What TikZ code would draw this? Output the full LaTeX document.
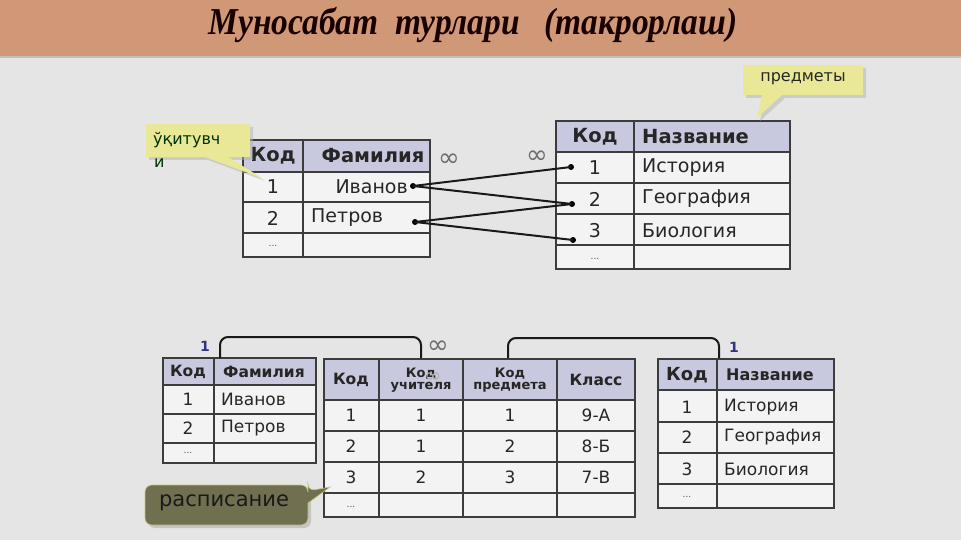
\documentclass[tikz,border=0pt]{standalone}
\usepackage{fontspec}
\setmainfont{DejaVu Sans}
\newfontfamily\titlefont{Liberation Serif}
\definecolor{bgcol}{RGB}{229,229,229}
\definecolor{titlecol}{RGB}{208,152,118}
\definecolor{hdr}{RGB}{200,200,222}
\definecolor{bodycol}{RGB}{243,243,243}
\definecolor{gridcol}{RGB}{60,60,60}
\definecolor{cally}{RGB}{232,232,150}
\definecolor{callo}{RGB}{112,112,80}
\definecolor{numblue}{RGB}{50,50,130}
\definecolor{infcol}{RGB}{110,110,110}
\tikzset{
  grid/.style={draw=gridcol,line width=1.3pt},
  txt/.style={inner sep=0pt,font=\fontsize{19}{22}\selectfont,text=black!85},
  htxt/.style={txt,font=\fontsize{19.5}{22}\selectfont\bfseries},
  stxt/.style={inner sep=0pt,font=\fontsize{17}{19}\selectfont,text=black!85},
  shtxt/.style={inner sep=0pt,font=\fontsize{15.5}{17}\selectfont\bfseries,text=black!85},
  tiny/.style={inner sep=0pt,font=\fontsize{13}{12.5}\selectfont\bfseries,text=black!85,align=center},
  dots/.style={inner sep=0pt,font=\fontsize{9}{10}\selectfont,text=black!70},
  dot/.style={circle,fill=black,inner sep=0pt,minimum size=6pt},
  conn/.style={draw=black!90,line width=2pt},
  inf/.style={inner sep=0pt,font=\fontsize{26}{26}\selectfont,text=infcol},
  one/.style={inner sep=0pt,font=\fontsize{14}{14}\selectfont\bfseries,text=numblue},
}
\begin{document}
\begin{tikzpicture}[x=1pt,y=-1pt]
\useasboundingbox (0,0) rectangle (961,540);
\fill[bgcol] (0,0) rectangle (961,540);
\fill[titlecol] (0,0) rectangle (961,57);
\fill[black!25] (0,56) rectangle (961,58);
\node[inner sep=0pt,xscale=0.88,font=\titlefont\fontsize{38}{40}\selectfont\bfseries\itshape,text=black!90!red] (title) at (473,25) {Муносабат\ \ турлари\ \ \ (такрорлаш)};

% ---------- top-left table
\fill[hdr] (243,140) rectangle (430,172);
\fill[bodycol] (243,172) rectangle (430,257);
\draw[grid] (243,140) rectangle (430,257);
\draw[grid] (303,140) -- (303,257);
\foreach \y in {172,202,233} \draw[grid] (243,\y) -- (430,\y);
\node[htxt] (t1h1) at (273,156) {Код};
\node[htxt] (t1h2) at (373,156) {Фамилия};
\node[txt] (t1a) at (273,187) {1};
\node[txt,anchor=east] (t1b) at (408,187) {Иванов};
\node[txt] (t1c) at (273,218) {2};
\node[txt,anchor=west] (t1d) at (311,218) {Петров};
\node[dots] (t1e) at (273,246) {...};

% ---------- top-right table
\fill[hdr] (556,121) rectangle (790,152);
\fill[bodycol] (556,152) rectangle (790,269);
\draw[grid] (556,121) rectangle (790,269);
\draw[grid] (634,121) -- (634,269);
\foreach \y in {152,183,214,245} \draw[grid] (556,\y) -- (790,\y);
\node[htxt] (t2h1) at (595,137) {Код};
\node[htxt,anchor=west] (t2h2) at (642,137) {Название};
\node[txt] (t2a) at (595,168) {1};
\node[txt,anchor=west] (t2b) at (642,168) {История};
\node[txt] (t2c) at (595,199) {2};
\node[txt,anchor=west] (t2d) at (642,199) {География};
\node[txt] (t2e) at (595,231) {3};
\node[txt,anchor=west] (t2f) at (642,231) {Биология};
\node[dots] (t2g) at (595,259) {...};

% ---------- connectors top
\node[dot] (dl1) at (413,186) {};
\node[dot] (dl2) at (415,222) {};
\node[dot] (dr1) at (571,167) {};
\node[dot] (dr2) at (572,204) {};
\node[dot] (dr3) at (573,240) {};
\draw[conn] (dl1.center) -- (dr1.center);
\draw[conn] (dl1.center) -- (dr2.center);
\draw[conn] (dl2.center) -- (dr2.center);
\draw[conn] (dl2.center) -- (dr3.center);
\node[inf] (inf1) at (449,160) {∞};
\node[inf] (inf2) at (537,157) {∞};

% ---------- callout teacher
\fill[black!30,opacity=0.5] (149,127) -- (253,127) -- (253,160) -- (231,160) -- (265,181) -- (208,160) -- (149,160) -- cycle;
\fill[cally] (146,124) -- (250,124) -- (250,157) -- (228,157) -- (262,178) -- (205,157) -- (146,157) -- cycle;
\node[inner sep=0pt,anchor=west,font=\fontsize{16}{18}\selectfont,text=black!80!green] (ct1) at (153,140) {ўқитувч};
\node[inner sep=0pt,anchor=west,font=\fontsize{16}{18}\selectfont,text=black!80!green] (ct2) at (154,163) {и};

% ---------- callout subjects
\fill[black!30,opacity=0.5] (746,68) -- (866,68) -- (866,98) -- (785,98) -- (760,121) -- (765,98) -- (746,98) -- cycle;
\fill[cally] (743,65) -- (863,65) -- (863,95) -- (782,95) -- (757,118) -- (762,95) -- (743,95) -- cycle;
\node[inner sep=0pt,font=\fontsize{16}{18}\selectfont,text=black!85] (cs) at (803,79) {предметы};

% ---------- bottom table A
\fill[hdr] (163,358) rectangle (316,385);
\fill[bodycol] (163,385) rectangle (316,463);
\draw[grid] (163,358) rectangle (316,463);
\draw[grid] (214,358) -- (214,463);
\foreach \y in {385,414,443} \draw[grid] (163,\y) -- (316,\y);
\node[shtxt] (aH1) at (188,372) {Код};
\node[shtxt] (aH2) at (264,372) {Фамилия};
\node[stxt] (aA) at (188,399) {1};
\node[stxt,anchor=west] (aB) at (221,399) {Иванов};
\node[stxt] (aC) at (188,428) {2};
\node[stxt,anchor=west] (aD) at (221,428) {Петров};
\node[dots] (aE) at (188,453) {...};

% ---------- bottom table B
\fill[hdr] (324,359) rectangle (635,400);
\fill[bodycol] (324,400) rectangle (635,517);
\draw[grid] (324,359) rectangle (635,517);
\foreach \x in {379,463,557} \draw[grid] (\x,359) -- (\x,517);
\foreach \y in {400,431,462,493} \draw[grid] (324,\y) -- (635,\y);
\node[shtxt] (bH1) at (351,380) {Код};
\node[tiny] (bH2) at (421,380) {Код\\учителя};
\node[tiny] (bH3) at (510,380) {Код\\предмета};
\node[shtxt] (bH4) at (596,380) {Класс};
\node[stxt] (b11) at (351,415) {1};
\node[stxt] (b12) at (421,415) {1};
\node[stxt] (b13) at (510,415) {1};
\node[stxt] (b14) at (596,415) {9-А};
\node[stxt] (b21) at (351,446) {2};
\node[stxt] (b22) at (421,446) {1};
\node[stxt] (b23) at (510,446) {2};
\node[stxt] (b24) at (596,446) {8-Б};
\node[stxt] (b31) at (351,477) {3};
\node[stxt] (b32) at (421,477) {2};
\node[stxt] (b33) at (510,477) {3};
\node[stxt] (b34) at (596,477) {7-В};
\node[dots] (b41) at (351,507) {...};

% ---------- bottom table C
\fill[hdr] (658,359) rectangle (834,390);
\fill[bodycol] (658,390) rectangle (834,508);
\draw[grid] (658,359) rectangle (834,508);
\draw[grid] (717,359) -- (717,508);
\foreach \y in {390,422,453,484} \draw[grid] (658,\y) -- (834,\y);
\node[inner sep=0pt,font=\fontsize{18}{19}\selectfont\bfseries,text=black!85] (cH1) at (687,375) {Код};
\node[inner sep=0pt,anchor=west,font=\fontsize{16}{17}\selectfont\bfseries,text=black!85] (cH2) at (726,375) {Название};
\node[stxt] (cA) at (687,407) {1};
\node[stxt,anchor=west] (cB) at (724,407) {История};
\node[stxt] (cC) at (687,437) {2};
\node[stxt,anchor=west] (cD) at (724,437) {География};
\node[stxt] (cE) at (687,469) {3};
\node[stxt,anchor=west] (cF) at (724,469) {Биология};
\node[dots] (cG) at (687,497) {...};

% ---------- brackets
\coordinate (k1a) at (220,358);
\coordinate (k1b) at (421,358);
\coordinate (k2a) at (508,358);
\coordinate (k2b) at (719,358);
\draw[conn,rounded corners=8pt] (k1a) -- ([yshift=21pt]k1a) -| (k1b);
\draw[conn,rounded corners=8pt] (k2a) -- ([yshift=20pt]k2a) -| (k2b);
\node[one] (o1) at (205,346) {1};
\node[inf] (inf3) at (438,347) {∞};
\node[one] (o2) at (734,347) {1};
\node[inf,text=infcol!55,font=\fontsize{20}{20}\selectfont] (inf4) at (433,378) {∞};

% ---------- callout schedule
\fill[black!35,opacity=0.5,rounded corners=7pt] (148,488) rectangle (311,528);
\path[fill=callo,draw=cally!70!callo,line width=0.6pt,rounded corners=7pt] (145,485) -- (308,485) -- (308,491) [sharp corners]-- (330,487) -- (308,503) [rounded corners=7pt]-- (308,525) -- (145,525) -- cycle;
\node[inner sep=0pt,font=\fontsize{21}{24}\selectfont,text=black!90] (cr) at (224,503) {расписание};
\end{tikzpicture}
\end{document}
